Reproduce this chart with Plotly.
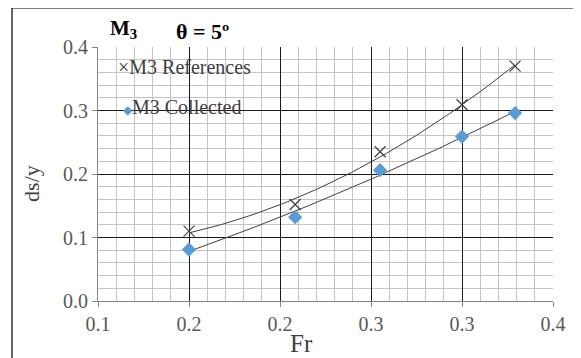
import numpy as np
import plotly.graph_objects as go

# Data
fr_ref = [0.160, 0.230, 0.286, 0.340, 0.375]
ds_ref = [0.110, 0.152, 0.235, 0.309, 0.370]
fr_col = [0.160, 0.230, 0.286, 0.340, 0.375]
ds_col = [0.081, 0.132, 0.206, 0.259, 0.296]
ref_name = "M3 References"
col_name = "M3 Collected"

FONT = "Liberation Serif"
BLUE = "#5b9bd5"
DARK = "#404040"

fig = go.Figure()

# polynomial (order 2) trendlines, as in the spreadsheet chart
for xs, ys in ((fr_ref, ds_ref), (fr_col, ds_col)):
    c = np.polyfit(xs, ys, 2)
    xt = np.linspace(min(xs), max(xs), 120)
    fig.add_trace(go.Scatter(x=xt, y=np.polyval(c, xt), mode="lines",
                             line=dict(color=DARK, width=1), hoverinfo="skip",
                             showlegend=False))

fig.add_trace(go.Scatter(x=fr_ref, y=ds_ref, mode="markers", name=ref_name,
                         marker=dict(symbol="x-thin", size=11,
                                     line=dict(color=DARK, width=1.2)),
                         showlegend=False))
fig.add_trace(go.Scatter(x=fr_col, y=ds_col, mode="markers", name=col_name,
                         marker=dict(symbol="diamond", size=11, color=BLUE,
                                     line=dict(width=0)),
                         showlegend=False))

axis_common = dict(
    showline=True, linecolor="#868686", linewidth=1,
    ticks="outside", ticklen=5, tickcolor="#868686",
    showgrid=True, gridcolor="#1a1a1a", gridwidth=1,
    zeroline=False, tickformat=".1f",
    tickfont=dict(family=FONT, size=20, color="#595959"),
)

fig.update_xaxes(range=[0.1, 0.4], tick0=0.1, dtick=0.06,
                 minor=dict(dtick=0.012, tick0=0.1, showgrid=True,
                            gridcolor="#c4c4c4", gridwidth=1.2),
                 **axis_common)
fig.update_yaxes(range=[0, 0.4], tick0=0, dtick=0.1,
                 minor=dict(dtick=0.02, tick0=0, showgrid=True,
                            gridcolor="#c4c4c4", gridwidth=1.2),
                 **axis_common)

ann = [
    dict(text="Fr", x=0.448, y=-0.168, font=dict(size=25, color=DARK)),
    dict(text="ds/y", x=-0.145, y=0.461, textangle=-90,
         font=dict(size=22, color=DARK)),
    dict(text="×" + ref_name, x=0.040, y=0.921, xanchor="left",
         font=dict(size=20, color=DARK)),
    dict(text="<span style='color:%s;font-size:12px'>◆</span>%s" % (BLUE, col_name),
         x=0.050, y=0.764, xanchor="left", font=dict(size=20, color=DARK)),
    dict(text="<b>M<sub>3</sub></b>", x=0.022, y=1.07, xanchor="left",
         font=dict(size=21, color="black")),
    dict(text="<b>θ = 5º</b>", x=0.166, y=1.062, xanchor="left",
         font=dict(size=22, color="black")),
]
for a in ann:
    a.setdefault("xanchor", "center")
    a.update(xref="paper", yref="paper", showarrow=False, yanchor="middle")
    a["font"]["family"] = FONT
    fig.add_annotation(**a)

# outer chart border
fig.add_shape(type="rect", xref="paper", yref="paper",
              x0=-0.189, x1=1.3, y0=-0.5, y1=1.1535,
              line=dict(color="black", width=1.2), layer="below")

# the page adds an 8px body margin, so the figure is sized to fill the rest
fig.update_layout(
    width=573, height=350,
    margin=dict(l=90, r=28, t=39, b=57),
    plot_bgcolor="white", paper_bgcolor="white",
    font=dict(family=FONT),
    showlegend=False,
)

fig.write_html("out.html")
